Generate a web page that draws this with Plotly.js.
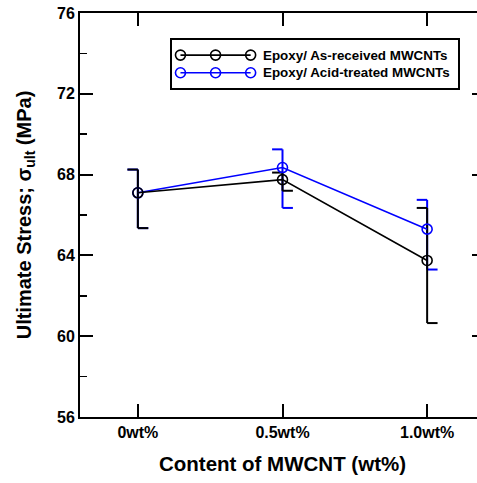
<!DOCTYPE html>
<html>
<head>
<meta charset="utf-8">
<script src="https://cdn.plot.ly/plotly-3.0.1.min.js"></script>
<style>
  html, body { margin: 0; padding: 0; background: #fff; overflow: hidden; }
  #chart { width: 492px; height: 483px; }
</style>
</head>
<body>
<div id="chart"></div>
<script>
// MWCNT content (wt%) and its tick labels
const contents = [0, 0.5, 1.0];
const contentLabels = ['0wt%', '0.5wt%', '1.0wt%'];

// Ultimate stress (MPa): mean, upper and lower error limits
const asReceivedMean = [67.1, 67.75, 63.75];
const asReceivedHigh = [68.25, 68.1, 66.35];
const asReceivedLow  = [65.35, 67.2, 60.65];

const acidTreatedMean = [67.1, 68.35, 65.3];
const acidTreatedHigh = [68.25, 69.25, 66.75];
const acidTreatedLow  = [65.35, 66.35, 63.3];

const seriesNames = ['Epoxy/ As-received MWCNTs', 'Epoxy/ Acid-treated MWCNTs'];
const yTicks = [56, 60, 64, 68, 72, 76];

const FONT = 'Liberation Sans, Arial, Helvetica, sans-serif';
const BLACK = '#000000';
const BLUE = '#0000ff';
const CAP = 0.036; // half-cap length in x units

// Error bars with a cap on the left at the top and on the right at the bottom
function errorPath(xs, lo, hi) {
  const px = [], py = [];
  xs.forEach((x, i) => {
    px.push(x, x, null, x - CAP, x, null, x, x + CAP, null);
    py.push(lo[i], hi[i], null, hi[i], hi[i], null, lo[i], lo[i], null);
  });
  return { x: px, y: py };
}

function errorTrace(lo, hi, color) {
  const p = errorPath(contents, lo, hi);
  return {
    x: p.x, y: p.y, type: 'scatter', mode: 'lines',
    line: { color: color, width: 2 }, hoverinfo: 'skip', showlegend: false,
    xaxis: 'x', yaxis: 'y'
  };
}

function meanTrace(ys, color, name) {
  return {
    x: contents, y: ys, type: 'scatter', mode: 'lines+markers', name: name,
    line: { color: color, width: 1.6 },
    marker: { symbol: 'circle-open', size: 10, color: color, line: { width: 1.6, color: color } },
    showlegend: false, xaxis: 'x', yaxis: 'y'
  };
}

// Key samples: a line carrying three open circles per row, in a small boxed axis
const keySampleX = [0, 1, 2];
function keyTrace(row, color) {
  return {
    x: keySampleX, y: keySampleX.map(() => row), type: 'scatter', mode: 'lines+markers',
    line: { color: color, width: 1.6 },
    marker: { symbol: 'circle-open', size: 10, color: color, line: { width: 1.6, color: color } },
    showlegend: false, hoverinfo: 'skip', xaxis: 'x2', yaxis: 'y2'
  };
}

const data = [
  errorTrace(acidTreatedLow, acidTreatedHigh, BLUE),
  errorTrace(asReceivedLow, asReceivedHigh, BLACK),
  meanTrace(acidTreatedMean, BLUE, seriesNames[1]),
  meanTrace(asReceivedMean, BLACK, seriesNames[0]),
  keyTrace(1, BLACK),
  keyTrace(0, BLUE)
];

const layout = {
  width: 492, height: 483,
  margin: { l: 80, r: 7, t: 13, b: 66 },
  paper_bgcolor: '#ffffff', plot_bgcolor: '#ffffff',
  font: { family: FONT, color: BLACK },
  showlegend: false,
  xaxis: {
    range: [-0.2, 1.2], tickvals: contents, ticktext: contentLabels,
    ticks: 'inside', ticklen: 13, tickwidth: 2, tickcolor: BLACK,
    showline: true, linewidth: 2, linecolor: BLACK, mirror: 'ticks',
    showgrid: false, zeroline: false, fixedrange: true,
    tickfont: { family: FONT, size: 16, weight: 'bold', color: BLACK },
    title: { text: 'Content of MWCNT (wt%)', standoff: 16,
             font: { family: FONT, size: 20.5, weight: 'bold', color: BLACK } }
  },
  yaxis: {
    range: [56, 76], tickvals: yTicks,
    ticks: 'inside', ticklen: 13, tickwidth: 2, tickcolor: BLACK,
    minor: { dtick: 2, ticks: 'inside', ticklen: 7, tickwidth: 1.5, tickcolor: BLACK },
    showline: true, linewidth: 2, linecolor: BLACK, mirror: 'ticks',
    showgrid: false, zeroline: false, fixedrange: true,
    tickfont: { family: FONT, size: 16, weight: 'bold', color: BLACK },
    title: { text: 'Ultimate Stress; σ<sub>ult</sub> (MPa)', standoff: 20,
             font: { family: FONT, size: 20, weight: 'bold', color: BLACK } }
  },
  xaxis2: {
    domain: [0.2264, 0.9326], anchor: 'y2', range: [-0.25, 7.9],
    showline: true, mirror: true, linewidth: 2, linecolor: BLACK,
    showticklabels: false, ticks: '', showgrid: false, zeroline: false, fixedrange: true
  },
  yaxis2: {
    domain: [0.815, 0.933], anchor: 'x2', range: [-0.85, 1.85],
    showline: true, mirror: true, linewidth: 2, linecolor: BLACK,
    showticklabels: false, ticks: '', showgrid: false, zeroline: false, fixedrange: true
  },
  annotations: seriesNames.map((name, i) => ({
    text: name, xref: 'x2', yref: 'y2', x: 2.3, y: 1 - i,
    xanchor: 'left', yanchor: 'middle', showarrow: false,
    font: { family: FONT, size: 13.4, weight: 'bold', color: BLACK }
  }))
};

Plotly.newPlot('chart', data, layout, { displayModeBar: false, staticPlot: true });
</script>
</body>
</html>
